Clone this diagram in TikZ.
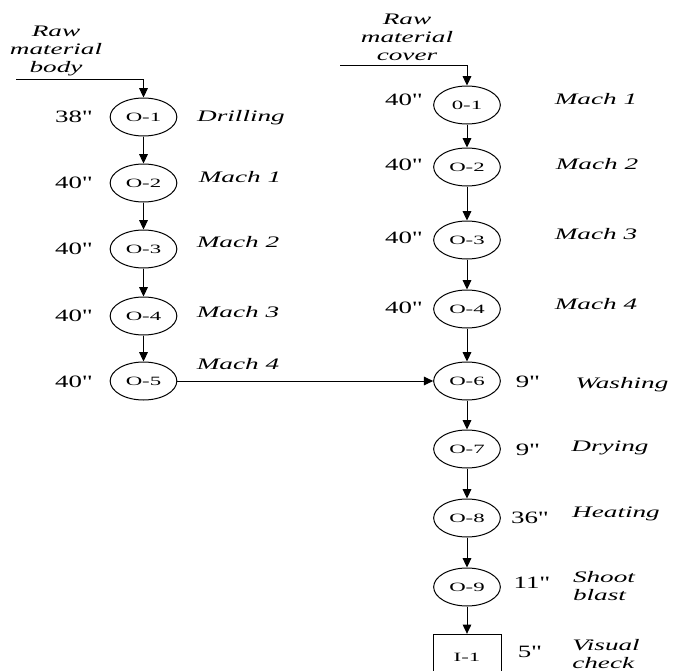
\documentclass[tikz,border=0pt]{standalone}
\usepackage{fontspec}
\setmainfont{Liberation Serif}
\newfontfamily\labfont{Liberation Serif}[FakeStretch=1.55]
\newfontfamily\actfont{Liberation Serif}[FakeStretch=1.7]
\newfontfamily\opfont{Liberation Serif}[FakeStretch=1.8]
\usetikzlibrary{arrows.meta,shapes.geometric}

\begin{document}
\begin{tikzpicture}[
  x=0.75pt, y=-0.75pt,
  every path/.style={line width=0.75pt},
  op/.style={draw, ellipse, minimum width=50pt, minimum height=28.5pt,
    inner sep=0pt, font=\opfont\fontsize{9.5}{10}\selectfont},
  insp/.style={draw, rectangle, minimum width=51pt, minimum height=34pt,
    inner sep=0pt, font=\opfont\fontsize{9.5}{10}\selectfont},
  tm/.style={inner sep=0pt, font=\labfont\fontsize{13}{14}\selectfont},
  act/.style={inner sep=0pt, align=center,
    font=\actfont\itshape\fontsize{12}{13.5}\selectfont},
  flow/.style={-{Triangle[length=7pt,width=6.5pt]}}
]
\useasboundingbox (0,0) rectangle (676,671);

% ---- body line ----
\node[op] (b1) at (143.5,117) {O-1};
\node[op] (b2) at (143.5,183) {O-2};
\node[op] (b3) at (143.5,249) {O-3};
\node[op] (b4) at (143.5,316) {O-4};
\node[op] (b5) at (143.5,381) {O-5};

\node[tm] (tb1) at (74,117) {38"};
\node[tm] (tb2) at (74,183) {40"};
\node[tm] (tb3) at (74,249) {40"};
\node[tm] (tb4) at (74,316) {40"};
\node[tm] (tb5) at (74,382) {40"};

\node[act] (ab1) at (241,118) {Drilling};
\node[act] (ab2) at (240,177) {Mach 1};
\node[act] (ab3) at (238,242) {Mach 2};
\node[act] (ab4) at (238,312) {Mach 3};
\node[act] (ab5) at (238,364) {Mach 4};

\node[act] (rawbody) at (56,51) {Raw\\material\\body};
\coordinate (bodyin) at (16,79);

% ---- cover line ----
\node[op] (c1) at (467,105) {0-1};
\node[op] (c2) at (467,167) {O-2};
\node[op] (c3) at (467,240) {O-3};
\node[op] (c4) at (467,309) {O-4};
\node[op] (c6) at (467,381) {O-6};
\node[op] (c7) at (467,449) {O-7};
\node[op] (c8) at (467,518) {O-8};
\node[op] (c9) at (467,587) {O-9};
\node[insp] (i1) at (467,657) {I-1};

\node[tm] (tc1) at (404,100) {40"};
\node[tm] (tc2) at (404,165) {40"};
\node[tm] (tc3) at (404,238) {40"};
\node[tm] (tc4) at (404,308) {40"};
\node[tm] (tc6) at (528,382) {9"};
\node[tm] (tc7) at (528,450) {9"};
\node[tm] (tc8) at (530,518) {36"};
\node[tm] (tc9) at (532,583) {11"};
\node[tm] (ti1) at (530,652) {5"};

\node[act] (ac1) at (596,99) {Mach 1};
\node[act] (ac2) at (597,164) {Mach 2};
\node[act] (ac3) at (596,234) {Mach 3};
\node[act] (ac4) at (596,304) {Mach 4};
\node[act] (ac6) at (622,385) {Washing};
\node[act] (ac7) at (610,448) {Drying};
\node[act] (ac8) at (616,514) {Heating};
\node[act,align=left] (ac9) at (604,586) {Shoot\\blast};
\node[act,align=left] (ai1) at (606,654) {Visual\\check};

\node[act] (rawcover) at (407,37) {Raw\\material\\cover};
\coordinate (coverin) at (340,65);

% ---- connectors ----
\draw[flow] (bodyin) -| (b1.north);
\draw[flow] (b1) -- (b2);
\draw[flow] (b2) -- (b3);
\draw[flow] (b3) -- (b4);
\draw[flow] (b4) -- (b5);
\draw[flow] (b5) -- (c6);

\draw[flow] (coverin) -| (c1.north);
\draw[flow] (c1) -- (c2);
\draw[flow] (c2) -- (c3);
\draw[flow] (c3) -- (c4);
\draw[flow] (c4) -- (c6);
\draw[flow] (c6) -- (c7);
\draw[flow] (c7) -- (c8);
\draw[flow] (c8) -- (c9);
\draw[flow] (c9) -- (i1);
\end{tikzpicture}
\end{document}
